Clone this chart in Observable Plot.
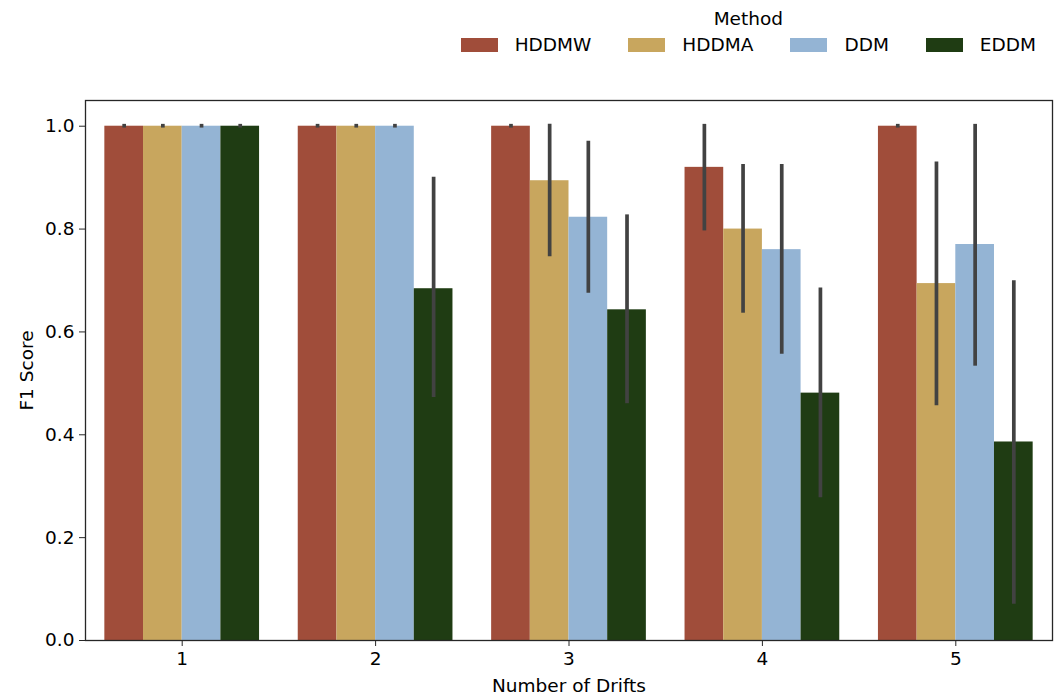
<!DOCTYPE html>
<html>
<head>
<meta charset="utf-8">
<script src="https://cdn.jsdelivr.net/npm/d3@7"></script>
<script src="https://cdn.jsdelivr.net/npm/@observablehq/plot@0.6"></script>
<style>
  html, body { margin: 0; padding: 0; background: #fff; }
  body { width: 1056px; height: 695px; overflow: hidden; font-family: "DejaVu Sans", sans-serif; color: #000; }
  #legend { height: 62px; display: flex; justify-content: flex-end; padding-right: 20px; box-sizing: border-box; }
  #legend .inner { display: flex; flex-direction: column; align-items: center; }
  #legend .title { margin-top: 7px; line-height: 24px; font-size: 18.5px; }
  #legend .row { display: flex; margin-top: 5px; height: 18px; align-items: center; }
  #legend .item { display: flex; align-items: center; margin-right: 37px; font-size: 18.5px; line-height: 18px; }
  #legend .item:last-child { margin-right: 0; }
  #legend .sw { width: 37px; height: 14px; margin-right: 17px; }
  svg { display: block; }
</style>
</head>
<body>
<div id="legend"></div>
<div id="chart"></div>
<script>
const drifts = [1, 2, 3, 4, 5];
const methods = ["HDDMW", "HDDMA", "DDM", "EDDM"];
const colors = ["#a04d3a", "#c8a65e", "#94b4d4", "#1f3c13"];

// mean F1 per method, indexed by number of drifts
const f1HDDMW = [1.0, 1.0, 1.0, 0.920, 1.0];
const f1HDDMA = [1.0, 1.0, 0.894, 0.800, 0.694];
const f1DDM   = [1.0, 1.0, 0.823, 0.760, 0.770];
const f1EDDM  = [1.0, 0.684, 0.643, 0.481, 0.386];

// confidence interval lows / highs
const loHDDMW = [1.0, 1.0, 1.0, 0.800, 1.0];
const hiHDDMW = [1.0, 1.0, 1.0, 1.0, 1.0];
const loHDDMA = [1.0, 1.0, 0.750, 0.640, 0.460];
const hiHDDMA = [1.0, 1.0, 1.0, 0.922, 0.927];
const loDDM   = [1.0, 1.0, 0.679, 0.560, 0.537];
const hiDDM   = [1.0, 1.0, 0.967, 0.922, 1.0];
const loEDDM  = [1.0, 0.476, 0.464, 0.281, 0.074];
const hiEDDM  = [1.0, 0.897, 0.824, 0.682, 0.696];

const yTicks = [0, 0.2, 0.4, 0.6, 0.8, 1.0];

const series = {
  HDDMW: [f1HDDMW, loHDDMW, hiHDDMW],
  HDDMA: [f1HDDMA, loHDDMA, hiHDDMA],
  DDM:   [f1DDM, loDDM, hiDDM],
  EDDM:  [f1EDDM, loEDDM, hiEDDM]
};
const data = [];
drifts.forEach((d, i) => {
  methods.forEach(m => {
    const [v, lo, hi] = series[m];
    data.push({drift: d, method: m, f1: v[i], lo: lo[i], hi: hi[i]});
  });
});

// legend
const legend = document.getElementById("legend");
const inner = document.createElement("div");
inner.className = "inner";
const title = document.createElement("div");
title.className = "title";
title.textContent = "Method";
inner.appendChild(title);
const row = document.createElement("div");
row.className = "row";
methods.forEach((m, i) => {
  const it = document.createElement("div");
  it.className = "item";
  const sw = document.createElement("div");
  sw.className = "sw";
  sw.style.background = colors[i];
  const lb = document.createElement("span");
  lb.textContent = m;
  it.appendChild(sw);
  it.appendChild(lb);
  row.appendChild(it);
});
inner.appendChild(row);
legend.appendChild(inner);

const axisColor = "#262626";

const chart = Plot.plot({
  width: 1056,
  height: 633,
  marginLeft: 85,
  marginRight: 4,
  marginTop: 38,
  marginBottom: 55,
  style: {fontFamily: "DejaVu Sans, sans-serif", fontSize: "18.5px", background: "#fff", color: "#000"},
  fx: {domain: drifts, paddingInner: 0, paddingOuter: 0, round: false},
  x: {domain: methods, paddingInner: 0, paddingOuter: 0.5, axis: null, round: false},
  y: {domain: [0, 1.05]},
  color: {domain: methods, range: colors},
  marks: [
    Plot.barY(data, {fx: "drift", x: "method", y: "f1", fill: "method"}),
    Plot.ruleX(data, {fx: "drift", x: "method", y1: "lo", y2: "hi", stroke: "#424242", strokeWidth: 3.7, strokeLinecap: "square"}),
    Plot.frame({facet: "super", stroke: axisColor, strokeWidth: 1.3}),
    Plot.axisY({anchor: "left", ticks: yTicks, tickFormat: ".1f", tickSize: 6, tickPadding: 5, stroke: axisColor, label: "F1 Score", labelAnchor: "center", labelArrow: "none", labelOffset: 66, fill: "#000"}),
    Plot.axisFx({anchor: "bottom", tickSize: 6, tickPadding: 5, stroke: axisColor, label: "Number of Drifts", labelAnchor: "center", labelArrow: "none", labelOffset: 51, fill: "#000"})
  ]
});
document.getElementById("chart").appendChild(chart);
</script>
</body>
</html>
